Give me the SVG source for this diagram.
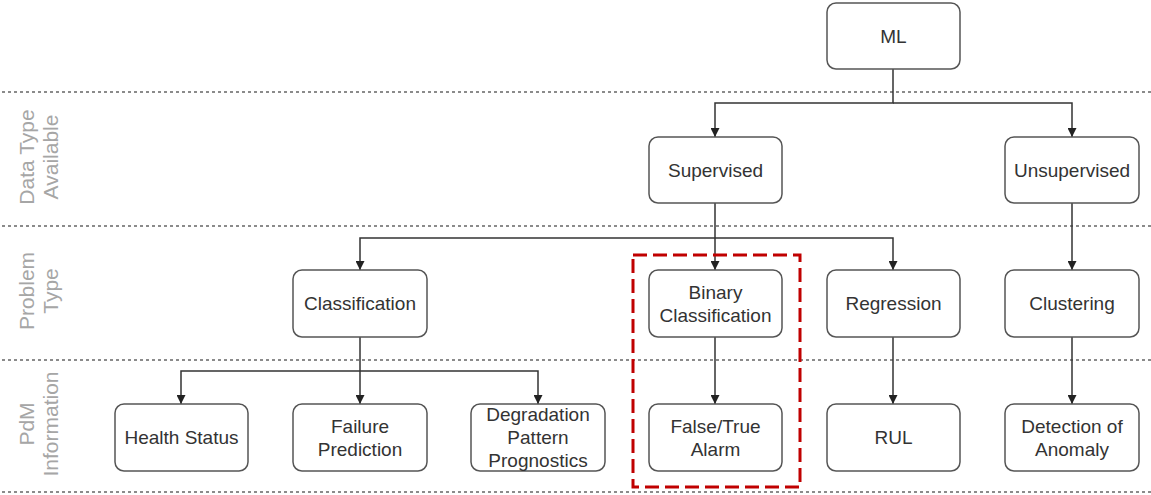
<svg xmlns="http://www.w3.org/2000/svg" width="1151" height="495" viewBox="0 0 1151 495">
<style>
.bg{fill:#fff}
.sep{stroke:#666;stroke-width:1.5;stroke-dasharray:3 3;fill:none}
.lane{font-family:"Liberation Sans",Arial,sans-serif;font-size:21px;fill:#a6a6a6;text-anchor:middle}
.box{fill:#fff;stroke:#555;stroke-width:1.5}
.t{font-family:"Liberation Sans",Arial,sans-serif;font-size:19px;fill:#333;text-anchor:middle;dominant-baseline:central}
.c{fill:none;stroke:#333;stroke-width:1.5;marker-end:url(#ah)}
.hl{fill:none;stroke:#c00000;stroke-width:3;stroke-dasharray:14 6}
</style>
<defs>
<marker id="ah" viewBox="0 0 10 10" refX="10" refY="5" markerWidth="9" markerHeight="9" markerUnits="userSpaceOnUse" orient="auto">
<path d="M0,0 L10,5 L0,10 z" fill="#222"/>
</marker>
</defs>
<rect class="bg" width="1151" height="495"/>
<g id="separators">
<line class="sep" x1="2" y1="92" x2="1151" y2="92"/>
<line class="sep" x1="2" y1="226" x2="1151" y2="226"/>
<line class="sep" x1="2" y1="360" x2="1151" y2="360"/>
<line class="sep" x1="2" y1="492" x2="1151" y2="492"/>
</g>
<g id="lanes">
<text class="lane" transform="translate(34,157) rotate(-90)">Data Type</text>
<text class="lane" transform="translate(58,157) rotate(-90)">Available</text>
<text class="lane" transform="translate(34,291) rotate(-90)">Problem</text>
<text class="lane" transform="translate(58,291) rotate(-90)">Type</text>
<text class="lane" transform="translate(34,424) rotate(-90)">PdM</text>
<text class="lane" transform="translate(58,424) rotate(-90)">Information</text>
</g>
<g id="connectors">
<polyline class="c" points="893,69 893,103 715,103 715,137"/>
<polyline class="c" points="893,103 1072,103 1072,137"/>
<polyline class="c" points="715,203 715,270"/>
<polyline class="c" points="715,238 360,238 360,270"/>
<polyline class="c" points="715,238 893,238 893,270"/>
<polyline class="c" points="1072,203 1072,270"/>
<polyline class="c" points="360,337 360,404"/>
<polyline class="c" points="360,371 181,371 181,404"/>
<polyline class="c" points="360,371 538,371 538,404"/>
<polyline class="c" points="715,337 715,404"/>
<polyline class="c" points="893,337 893,404"/>
<polyline class="c" points="1072,337 1072,404"/>
</g>
<g id="ml"><rect class="box" x="827" y="3" width="133" height="66" rx="9"/><text class="t" x="893.5" y="36">ML</text></g>
<g id="supervised"><rect class="box" x="649" y="137" width="133" height="66" rx="9"/><text class="t" x="715.5" y="170">Supervised</text></g>
<g id="unsupervised"><rect class="box" x="1005" y="137" width="134" height="66" rx="9"/><text class="t" x="1072" y="170">Unsupervised</text></g>
<g id="classification"><rect class="box" x="293" y="270" width="134" height="67" rx="9"/><text class="t" x="360" y="303.5">Classification</text></g>
<g id="binary"><rect class="box" x="649" y="270" width="133" height="67" rx="9"/><text class="t" x="715.5" y="292">Binary</text><text class="t" x="715.5" y="315">Classification</text></g>
<g id="regression"><rect class="box" x="827" y="270" width="133" height="67" rx="9"/><text class="t" x="893.5" y="303.5">Regression</text></g>
<g id="clustering"><rect class="box" x="1005" y="270" width="134" height="67" rx="9"/><text class="t" x="1072" y="303.5">Clustering</text></g>
<g id="health"><rect class="box" x="115" y="404" width="133" height="67" rx="9"/><text class="t" x="181.5" y="437.5">Health Status</text></g>
<g id="failure"><rect class="box" x="293" y="404" width="134" height="67" rx="9"/><text class="t" x="360" y="426">Failure</text><text class="t" x="360" y="449">Prediction</text></g>
<g id="degradation"><rect class="box" x="471" y="404" width="134" height="67" rx="9"/><text class="t" x="538" y="414">Degradation</text><text class="t" x="538" y="437">Pattern</text><text class="t" x="538" y="460">Prognostics</text></g>
<g id="alarm"><rect class="box" x="649" y="404" width="133" height="67" rx="9"/><text class="t" x="715.5" y="426">False/True</text><text class="t" x="715.5" y="449">Alarm</text></g>
<g id="rul"><rect class="box" x="827" y="404" width="133" height="67" rx="9"/><text class="t" x="893.5" y="437.5">RUL</text></g>
<g id="anomaly"><rect class="box" x="1005" y="404" width="134" height="67" rx="9"/><text class="t" x="1072" y="426">Detection of</text><text class="t" x="1072" y="449">Anomaly</text></g>
<g id="highlight"><rect class="hl" x="633" y="255" width="167" height="232"/></g>
</svg>
